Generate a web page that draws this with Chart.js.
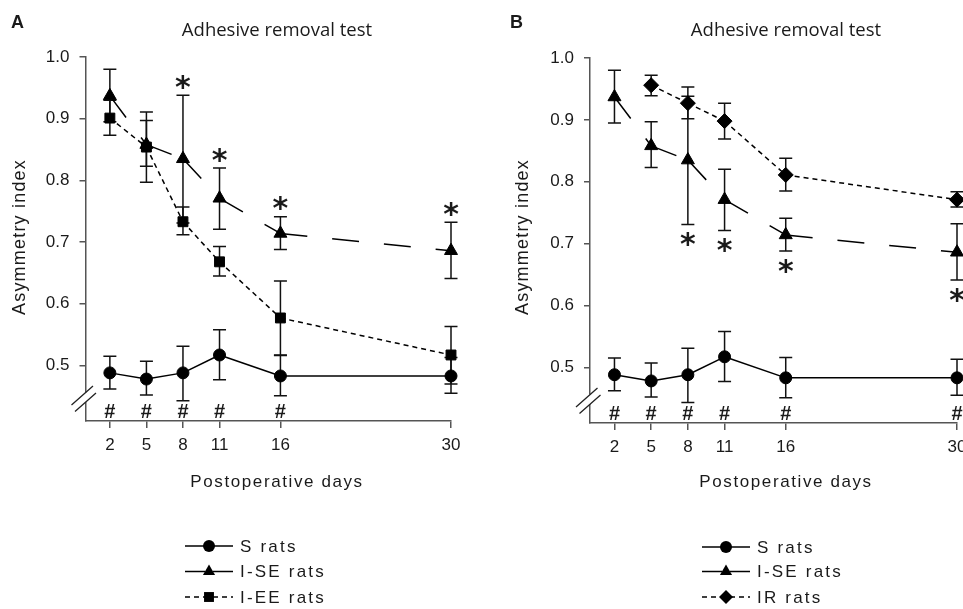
<!DOCTYPE html>
<html>
<head>
<meta charset="utf-8">
<script src="https://cdn.jsdelivr.net/npm/chart.js@4.4.1/dist/chart.umd.min.js"></script>
<style>
html, body { margin: 0; padding: 0; background: #fff; overflow: hidden; width: 963px; height: 609px; }
#panelA { position: absolute; left: 0; top: 0; }
#panelB { position: absolute; left: 482px; top: 0; }
</style>
</head>
<body>
<canvas id="panelA" width="481" height="609"></canvas>
<canvas id="panelB" width="500" height="609"></canvas>
<script>
var days = [2, 5, 8, 11, 16, 30]
var yTicks = [0.5, 0.6, 0.7, 0.8, 0.9, 1.0]

// S rats
var sMean = [0.488, 0.478, 0.488, 0.517, 0.483, 0.483]
var sLow = [0.462, 0.452, 0.443, 0.477, 0.451, 0.455]
var sHigh = [0.515, 0.507, 0.531, 0.558, 0.516, 0.513]

// I-SE rats
var iseMean = [0.937, 0.858, 0.835, 0.771, 0.714, 0.686]
var iseLow = [0.895, 0.823, 0.731, 0.721, 0.688, 0.641]
var iseHigh = [0.980, 0.897, 0.938, 0.820, 0.741, 0.732]

// I-EE rats
var ieeMean = [0.901, 0.854, 0.733, 0.668, 0.577, 0.517]
var ieeLow = [0.873, 0.797, 0.712, 0.645, 0.517, 0.470]
var ieeHigh = [0.930, 0.911, 0.757, 0.693, 0.637, 0.563]

// IR rats
var irMean = [null, 0.956, 0.927, 0.898, 0.811, 0.771]
var irLow = [null, 0.939, 0.902, 0.869, 0.785, 0.759]
var irHigh = [null, 0.972, 0.953, 0.927, 0.838, 0.784]

var starIdx = [2, 3, 4, 5]
var hashIdxA = [0, 1, 2, 3, 4]
var hashIdxB = [0, 1, 2, 3, 4, 5]

var textColor = `#1a1a1a`
var axisColor = `#555`
var longDash = [27, 25]
var shortDash = [5, 4]

function makeDataset(label, mean, pointStyle, radius, dash){
    return {
        label: label,
        data: days.map((d, i) => ({x: d, y: mean[i]})),
        borderColor: `#000`,
        backgroundColor: `#000`,
        borderWidth: 1.5,
        borderDash: dash,
        pointStyle: pointStyle,
        pointRadius: radius,
        pointBorderWidth: 1,
        pointBackgroundColor: `#000`,
        pointBorderColor: `#000`,
        tension: 0,
        clip: false,
        // restart the dash pattern at every point, like the original figure
        segment: {
            borderDashOffset: (ctx) => ctx.p0DataIndex * 0.001
        }
    }
}

function drawMarker(ctx, style, r, x, y){
    ctx.beginPath()
    if(style == `circle`){
        ctx.arc(x, y, r, 0, Math.PI * 2)
    } else if(style == `triangle`){
        ctx.moveTo(x, y - r)
        ctx.lineTo(x + r * 0.866, y + r * 0.5)
        ctx.lineTo(x - r * 0.866, y + r * 0.5)
        ctx.closePath()
    } else if(style == `rect`){
        var s = r * Math.SQRT1_2
        ctx.rect(x - s, y - s, s * 2, s * 2)
    } else {
        ctx.moveTo(x, y - r)
        ctx.lineTo(x + r, y)
        ctx.lineTo(x, y + r)
        ctx.lineTo(x - r, y)
        ctx.closePath()
    }
    ctx.fill()
}

var extrasPlugin = {
    id: `extras`,
    beforeDatasetsDraw(chart, args, opts){
        var ctx = chart.ctx
        var xs = chart.scales.x
        var ys = chart.scales.y
        ctx.save()
        ctx.strokeStyle = `#111`
        ctx.lineWidth = 1.5
        opts.bars.forEach((b) => {
            for(var i = 0; i < days.length; i++){
                if(b.low[i] == null) continue
                var px = xs.getPixelForValue(days[i])
                var pl = ys.getPixelForValue(b.low[i])
                var ph = ys.getPixelForValue(b.high[i])
                ctx.beginPath()
                ctx.moveTo(px, pl)
                ctx.lineTo(px, ph)
                ctx.moveTo(px - 6.5, pl)
                ctx.lineTo(px + 6.5, pl)
                ctx.moveTo(px - 6.5, ph)
                ctx.lineTo(px + 6.5, ph)
                ctx.stroke()
            }
        })
        ctx.restore()
    },
    afterDraw(chart, args, opts){
        var ctx = chart.ctx
        var area = chart.chartArea
        var xs = chart.scales.x
        var ys = chart.scales.y
        ctx.save()
        ctx.fillStyle = textColor

        // panel letter
        ctx.font = `bold 18px "Liberation Sans"`
        ctx.textAlign = `left`
        ctx.textBaseline = `alphabetic`
        ctx.fillText(opts.letter, opts.letterX, 28)

        // title
        ctx.font = `18.5px "Open Sans"`
        ctx.textAlign = `center`
        ctx.textBaseline = `middle`
        ctx.fillText(`Adhesive removal test`, opts.centerX, 31)

        // axis titles
        ctx.letterSpacing = `1.6px`
        ctx.font = `17px "Liberation Sans"`
        ctx.fillText(`Postoperative days`, opts.centerX, 482)
        ctx.save()
        ctx.translate(opts.yTitleX, 237)
        ctx.rotate(-Math.PI / 2)
        ctx.letterSpacing = `1.2px`
        ctx.font = `18px "Liberation Sans"`
        ctx.fillText(`Asymmetry index`, 0, 0)
        ctx.restore()
        ctx.letterSpacing = `0px`

        // axis break
        var ax = area.left
        var by = area.bottom
        ctx.fillStyle = `#fff`
        ctx.fillRect(ax - 2, by - 28.5, 4, 9.5)
        ctx.strokeStyle = `#222`
        ctx.lineWidth = 1.3
        ctx.beginPath()
        ctx.moveTo(ax - 14, by - 16)
        ctx.lineTo(ax + 7.5, by - 35)
        ctx.moveTo(ax - 10.5, by - 9.5)
        ctx.lineTo(ax + 10.5, by - 28)
        ctx.stroke()

        // significance marks
        ctx.fillStyle = textColor
        ctx.textAlign = `center`
        ctx.textBaseline = `alphabetic`
        ctx.font = `bold 30px "DejaVu Sans"`
        starIdx.forEach((i) => {
            var px = xs.getPixelForValue(days[i])
            var cy = opts.starsAbove ? ys.getPixelForValue(iseHigh[i]) - 16 : ys.getPixelForValue(iseLow[i]) + 12
            ctx.fillText(`*`, px, cy + 17.5)
        })
        ctx.font = `bold 20px "Liberation Sans"`
        ctx.textBaseline = `middle`
        opts.hashes.forEach((i) => {
            ctx.fillText(`#`, xs.getPixelForValue(days[i]), by - 9)
        })

        // legend
        opts.legend.forEach((item, row) => {
            var ly = opts.legendY[row]
            var x0 = opts.legendX
            var mx = x0 + 24
            var x1 = x0 + 48
            ctx.strokeStyle = `#000`
            ctx.lineWidth = 1.5
            ctx.setLineDash(item.dash)
            ctx.beginPath()
            ctx.moveTo(x0, ly)
            ctx.lineTo(mx - 4, ly)
            ctx.stroke()
            ctx.beginPath()
            ctx.moveTo(mx + 4, ly)
            ctx.lineTo(x1, ly)
            ctx.stroke()
            ctx.setLineDash([])
            ctx.fillStyle = `#000`
            drawMarker(ctx, item.style, item.radius, mx, ly)
            ctx.fillStyle = textColor
            ctx.textAlign = `left`
            ctx.letterSpacing = `2.2px`
            ctx.font = `17px "Liberation Sans"`
            ctx.fillText(item.label, x0 + 55, ly + 1)
            ctx.letterSpacing = `0px`
        })
        ctx.restore()
    }
}

function makeOptions(yWidth, extras){
    return {
        responsive: false,
        animation: false,
        layout: {padding: extras.padding},
        plugins: {
            legend: {display: false},
            tooltip: {enabled: false},
            extras: extras
        },
        scales: {
            x: {
                type: `linear`,
                min: 0,
                max: 30,
                afterFit: (scale) => { scale.height = 40 },
                afterBuildTicks: (scale) => { scale.ticks = days.map((d) => ({value: d})) },
                grid: {drawOnChartArea: false, tickLength: 7, color: axisColor, lineWidth: 1.5},
                border: {color: axisColor, width: 1.5},
                ticks: {autoSkip: false, maxRotation: 0, padding: 7, color: textColor, font: {family: `Liberation Sans`, size: 17}}
            },
            y: {
                type: `linear`,
                min: 0.41,
                max: 1.0,
                afterFit: (scale) => { scale.width = yWidth },
                afterBuildTicks: (scale) => { scale.ticks = yTicks.map((v) => ({value: v})) },
                grid: {drawOnChartArea: false, tickLength: 6, color: axisColor, lineWidth: 1.5},
                border: {color: axisColor, width: 1.5},
                ticks: {padding: 10, color: textColor, font: {family: `Liberation Sans`, size: 17}, callback: (v) => v.toFixed(1)}
            }
        }
    }
}

new Chart(document.getElementById(`panelA`), {
    type: `line`,
    data: {
        datasets: [
            makeDataset(`S rats`, sMean, `circle`, 6, []),
            makeDataset(`I-SE rats`, iseMean, `triangle`, 7.5, longDash),
            makeDataset(`I-EE rats`, ieeMean, `rect`, 7, shortDash)
        ]
    },
    options: makeOptions(85.5, {
        padding: {left: 0, right: 30, top: 57, bottom: 148},
        letter: `A`, letterX: 11, centerX: 277, yTitleX: 20,
        starsAbove: true, hashes: hashIdxA,
        bars: [
            {low: sLow, high: sHigh},
            {low: iseLow, high: iseHigh},
            {low: ieeLow, high: ieeHigh}
        ],
        legendX: 185, legendY: [546, 571.5, 597],
        legend: [
            {label: `S rats`, style: `circle`, radius: 6, dash: []},
            {label: `I-SE rats`, style: `triangle`, radius: 7, dash: []},
            {label: `I-EE rats`, style: `rect`, radius: 7, dash: shortDash}
        ]
    }),
    plugins: [extrasPlugin]
})

new Chart(document.getElementById(`panelB`), {
    type: `line`,
    data: {
        datasets: [
            makeDataset(`S rats`, sMean, `circle`, 6, []),
            makeDataset(`I-SE rats`, iseMean, `triangle`, 7.5, longDash),
            makeDataset(`IR rats`, irMean, `rectRot`, 7.5, shortDash)
        ]
    },
    options: makeOptions(108, {
        padding: {left: 0, right: 25, top: 58, bottom: 146},
        letter: `B`, letterX: 28, centerX: 304, yTitleX: 41,
        starsAbove: false, hashes: hashIdxB,
        bars: [
            {low: sLow, high: sHigh},
            {low: iseLow, high: iseHigh},
            {low: irLow, high: irHigh}
        ],
        legendX: 220, legendY: [547, 571.5, 597],
        legend: [
            {label: `S rats`, style: `circle`, radius: 6, dash: []},
            {label: `I-SE rats`, style: `triangle`, radius: 7, dash: []},
            {label: `IR rats`, style: `diamond`, radius: 7, dash: shortDash}
        ]
    }),
    plugins: [extrasPlugin]
})
</script>
</body>
</html>
